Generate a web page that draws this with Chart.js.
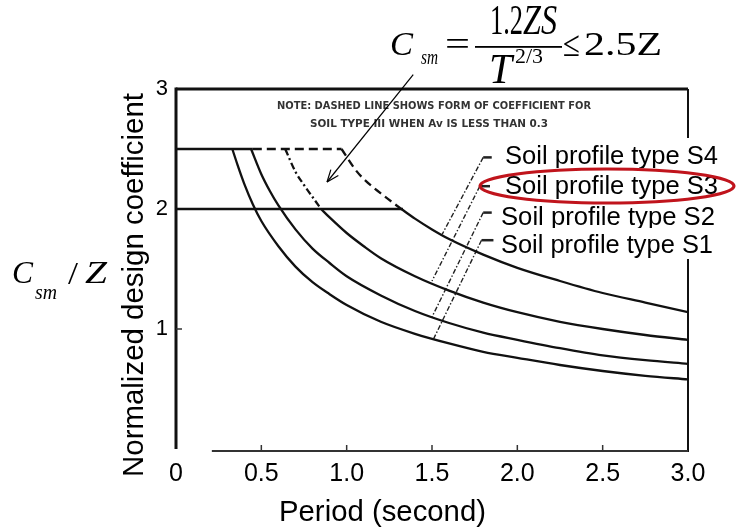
<!DOCTYPE html>
<html>
<head>
<meta charset="utf-8">
<script src="https://cdn.jsdelivr.net/npm/chart.js@4.4.1/dist/chart.umd.min.js"></script>
<style>
  html, body { margin: 0; padding: 0; background: #fff; }
  canvas { display: block; }
</style>
</head>
<body>
<canvas id="chart" width="736" height="530"></canvas>
<script>
// tick labels
const xTickLabels = ['0', '0.5', '1.0', '1.5', '2.0', '2.5', '3.0'];
const yTickLabels = ['', '1', '2', '3'];

// caps (2.5 plateau and the 2.0 limit line)
const capSolidT = [0, 0.45];
const capSolidV = [2.5, 2.5];
const capDashT = [0.45, 0.97];
const capDashV = [2.5, 2.5];
const cap20T = [0, 1.33];
const cap20V = [2.0, 2.0];

// soil profile curves
const s1T = [0.33, 0.36, 0.4, 0.45, 0.5, 0.6, 0.7, 0.8, 0.9, 1.0, 1.2, 1.4, 1.6, 1.8, 2.0, 2.25, 2.5, 2.75, 3.0];
const s1V = [2.5, 2.37, 2.21, 2.04, 1.9, 1.69, 1.52, 1.39, 1.29, 1.2, 1.06, 0.96, 0.88, 0.81, 0.76, 0.70, 0.65, 0.61, 0.58];
const s2T = [0.44, 0.5, 0.55, 0.6, 0.7, 0.8, 0.9, 1.0, 1.2, 1.4, 1.6, 1.8, 2.0, 2.25, 2.5, 2.75, 3.0];
const s2V = [2.5, 2.29, 2.15, 2.03, 1.83, 1.67, 1.55, 1.44, 1.28, 1.15, 1.05, 0.97, 0.91, 0.84, 0.78, 0.74, 0.71];
const s3DashT = [0.64, 0.7, 0.75, 0.8, 0.85];
const s3DashV = [2.5, 2.31, 2.2, 2.1, 2.0];
const s3T = [0.85, 0.9, 1.0, 1.1, 1.2, 1.4, 1.6, 1.8, 2.0, 2.25, 2.5, 2.75, 3.0];
const s3V = [2.0, 1.93, 1.80, 1.69, 1.59, 1.44, 1.32, 1.22, 1.14, 1.06, 1.0, 0.95, 0.91];
const s4DashT = [0.97, 1.05, 1.1, 1.2, 1.32];
const s4DashV = [2.5, 2.33, 2.25, 2.13, 2.0];
const s4T = [1.32, 1.4, 1.5, 1.6, 1.8, 2.0, 2.25, 2.5, 2.75, 3.0];
const s4V = [2.0, 1.92, 1.83, 1.75, 1.62, 1.51, 1.40, 1.30, 1.22, 1.14];

// leader lines from the labels (S4, S3, S2, S1)
const soilLabels = ['Soil profile type S4', 'Soil profile type S3', 'Soil profile type S2', 'Soil profile type S1'];
const leadTickT = [1.85, 1.84, 1.85, 1.86];
const leadStartT = [1.80, 1.78, 1.80, 1.79];
const leadV = [2.43, 2.19, 1.97, 1.74];
const leadEndT = [1.56, 1.50, 1.50, 1.51];
const leadEndV = [1.79, 1.40, 1.10, 0.92];

// arrow from the formula into the dashed region
const arrowT = [1.39, 0.885];
const arrowV = [3.12, 2.225];

const noteLines = ['NOTE: DASHED LINE SHOWS FORM OF COEFFICIENT FOR', 'SOIL TYPE III WHEN Av IS LESS THAN 0.3'];

const sans = '"Liberation Sans", Arial, sans-serif';
const serif = '"Liberation Serif", "Times New Roman", serif';

function pts(ts, vs) {
  return ts.map((t, i) => ({ x: t, y: vs[i] }));
}

function curve(data, dash) {
  return { data, borderColor: '#111', borderWidth: 2.3, borderDash: dash || [], pointRadius: 0,
    fill: false, cubicInterpolationMode: 'monotone' };
}

// draw text squeezed/stretched to a given width
function fit(ctx, text, font, x, y, w) {
  ctx.font = font;
  const nat = ctx.measureText(text).width;
  ctx.save();
  ctx.translate(x, y);
  ctx.scale(w / nat, 1);
  ctx.fillText(text, 0, 0);
  ctx.restore();
}

function seg(ctx, x1, y1, x2, y2) {
  ctx.beginPath();
  ctx.moveTo(x1, y1);
  ctx.lineTo(x2, y2);
  ctx.stroke();
}

const datasets = [
  curve(pts(capSolidT, capSolidV)),
  curve(pts(capDashT, capDashV), [9, 5]),
  curve(pts(cap20T, cap20V)),
  curve(pts(s1T, s1V)),
  curve(pts(s2T, s2V)),
  curve(pts(s3DashT, s3DashV), [7, 3, 2, 3]),
  curve(pts(s3T, s3V)),
  curve(pts(s4DashT, s4DashV), [8, 5]),
  curve(pts(s4T, s4V))
];
for (let i = 0; i < 4; i++) {
  datasets.push({ data: pts([leadTickT[i], leadStartT[i]], [leadV[i], leadV[i]]),
    borderColor: '#222', borderWidth: 2.5, pointRadius: 0, fill: false });
  datasets.push({ data: pts([leadStartT[i], leadEndT[i]], [leadV[i], leadEndV[i]]),
    borderColor: '#222', borderWidth: 1.4, borderDash: [5, 2, 1.5, 2], pointRadius: 0, fill: false });
}

// axes frame and inward ticks
const frame = {
  id: 'frame',
  beforeDatasetsDraw(chart) {
    const { ctx, chartArea: a, scales: { x, y } } = chart;
    const y0 = y.getPixelForValue(0);
    ctx.save();
    ctx.strokeStyle = '#111';
    ctx.lineWidth = 3;
    seg(ctx, a.left, a.top - 1.5, a.left, y0);
    seg(ctx, a.left, a.top, a.right, a.top);
    ctx.lineWidth = 2;
    seg(ctx, a.right, a.top, a.right, y0 + 3);
    ctx.strokeStyle = '#333';
    seg(ctx, x.getPixelForValue(0.21), y0 + 2, a.right, y0 + 2);
    ctx.lineWidth = 1.5;
    [0.5, 1, 1.5, 2, 2.5].forEach(v => {
      const px = x.getPixelForValue(v);
      seg(ctx, px, y0 + 2, px, y0 - 4);
    });
    [1, 2].forEach(v => {
      const py = y.getPixelForValue(v);
      seg(ctx, a.left, py, a.left + 6, py);
    });
    ctx.restore();
  },
  afterDatasetsDraw(chart) {
    const { ctx, scales: { x, y } } = chart;
    ctx.save();

    // scanned note inside the plot
    ctx.fillStyle = '#333';
    fit(ctx, noteLines[0], 'bold 11px "DejaVu Sans", sans-serif', 277, 109, 314);
    fit(ctx, noteLines[1], 'bold 11px "DejaVu Sans", sans-serif', 310, 127, 238);

    // arrow
    const ax1 = x.getPixelForValue(arrowT[0]), ay1 = y.getPixelForValue(arrowV[0]);
    const ax2 = x.getPixelForValue(arrowT[1]), ay2 = y.getPixelForValue(arrowV[1]);
    ctx.strokeStyle = '#000';
    ctx.lineWidth = 1.2;
    seg(ctx, ax1, ay1, ax2, ay2);
    const ang = Math.atan2(ay1 - ay2, ax1 - ax2);
    [-0.38, 0.38].forEach(d => {
      seg(ctx, ax2, ay2, ax2 + 13 * Math.cos(ang + d), ay2 + 13 * Math.sin(ang + d));
    });

    // soil labels, each with a white box covering what lies behind
    const boxes = [[138, 168], [168, 199], [199, 228], [228, 259]];
    const lx = [505, 505, 501, 501];
    const lw = [213, 213, 214, 212];
    const base = [164, 194, 225, 253];
    for (let i = 0; i < 4; i++) {
      ctx.fillStyle = '#fff';
      ctx.fillRect(497, boxes[i][0], 239, boxes[i][1] - boxes[i][0]);
      ctx.fillStyle = '#000';
      fit(ctx, soilLabels[i], `25px ${sans}`, lx[i], base[i], lw[i]);
    }

    // red ellipse around S3
    ctx.strokeStyle = '#c0141c';
    ctx.lineWidth = 3.2;
    ctx.beginPath();
    ctx.ellipse(607, 186, 127, 17, 0, 0, Math.PI * 2);
    ctx.stroke();

    // axis titles
    ctx.fillStyle = '#000';
    fit(ctx, 'Period (second)', `29px ${sans}`, 279, 521, 207);
    ctx.save();
    ctx.translate(143, 477);
    ctx.rotate(-Math.PI / 2);
    fit(ctx, 'Normalized design coefficient', `29px ${sans}`, 0, 0, 384);
    ctx.restore();

    fit(ctx, 'C', `italic 32px ${serif}`, 12, 283, 21);
    fit(ctx, 'sm', `italic 21px ${serif}`, 35, 299, 22);
    fit(ctx, '/', `32px ${serif}`, 68, 284, 10);
    fit(ctx, 'Z', `italic 32px ${serif}`, 85, 283, 22);

    // formula
    fit(ctx, 'C', `italic 34px ${serif}`, 390, 55, 23);
    fit(ctx, 'sm', `italic 20px ${serif}`, 421, 64, 17);
    fit(ctx, '=', `34px ${serif}`, 445, 55, 25);
    ctx.fillRect(475, 46, 87, 1.8);
    fit(ctx, '1.2', `42px ${serif}`, 490, 34, 33);
    fit(ctx, 'ZS', `italic 42px ${serif}`, 523, 34, 34);
    fit(ctx, 'T', `italic 42px ${serif}`, 489, 83, 23);
    fit(ctx, '2/3', `22px ${serif}`, 515, 63, 28);
    fit(ctx, '\u2264', `36px ${serif}`, 563, 56, 17);
    fit(ctx, '2.5Z', `34px ${serif}`, 584, 55, 78);

    ctx.restore();
  }
};

new Chart(document.getElementById('chart'), {
  type: 'line',
  data: { datasets },
  options: {
    responsive: false,
    devicePixelRatio: 1,
    animation: false,
    events: [],
    layout: { padding: { top: 89, right: 48, left: 0, bottom: 0 } },
    plugins: { legend: { display: false }, tooltip: { enabled: false }, title: { display: false } },
    scales: {
      x: {
        type: 'linear', min: 0, max: 3,
        grid: { display: false, drawTicks: false },
        border: { display: false },
        ticks: { stepSize: 0.5, autoSkip: false, maxRotation: 0, padding: 10, color: '#000',
          font: { family: 'Liberation Sans', size: 25 },
          callback: (v, i) => xTickLabels[i] },
        afterFit(s) { s.height = 81; }
      },
      y: {
        min: 0, max: 3,
        grid: { display: false, drawTicks: false },
        border: { display: false },
        ticks: { stepSize: 1, padding: 8, color: '#000',
          font: { family: 'Liberation Sans', size: 22 },
          callback: (v, i) => yTickLabels[i] },
        afterFit(s) { s.width = 176; }
      }
    }
  },
  plugins: [frame]
});
</script>
</body>
</html>
